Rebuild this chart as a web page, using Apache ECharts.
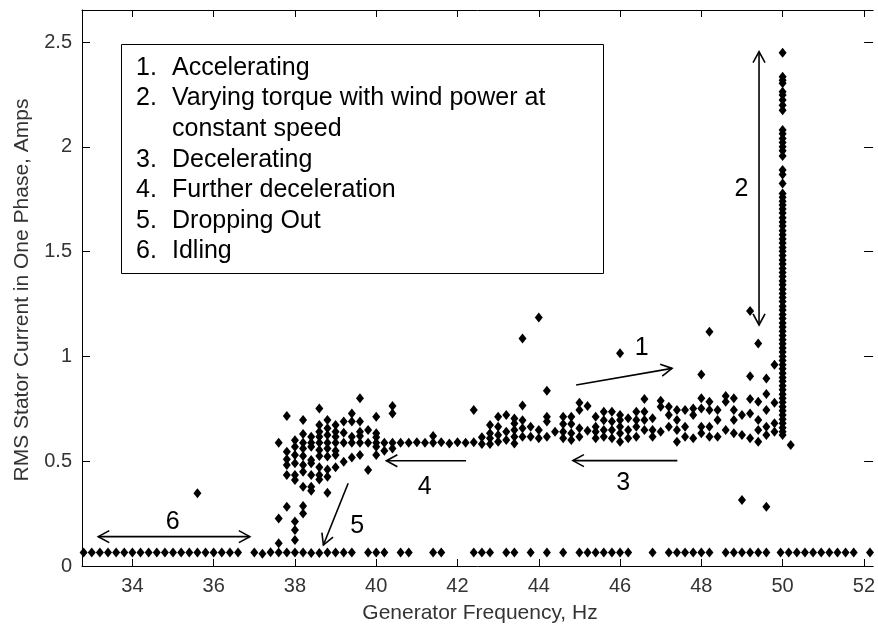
<!DOCTYPE html>
<html><head><meta charset="utf-8">
<script src="https://cdn.jsdelivr.net/npm/echarts@6/dist/echarts.min.js"></script>
<style>html,body{margin:0;padding:0;background:#fff}#c{width:878px;height:628px}</style>
</head><body><div id="c"></div>
<script>
const xTicks = [34,36,38,40,42,44,46,48,50,52];
const yTicks = [0,0.5,1,1.5,2,2.5];
const xTitle = 'Generator Frequency, Hz';
const yTitle = 'RMS Stator Current in One Phase, Amps';
const legendLines = [
  ['1.','Accelerating'],
  ['2.','Varying torque with wind power at'],
  ['','constant speed'],
  ['3.','Decelerating'],
  ['4.','Further deceleration'],
  ['5.','Dropping Out'],
  ['6.','Idling']
];

// idle row near zero
const idleRow = [
 [32.8,0.064],[33.0,0.064],[33.2,0.064],[33.4,0.064],[33.6,0.064],[33.8,0.064],[34.0,0.064],[34.2,0.064],[34.4,0.064],[34.6,0.064],
 [34.8,0.064],[35.0,0.064],[35.2,0.064],[35.4,0.064],[35.6,0.064],[35.8,0.064],[36.0,0.064],[36.2,0.064],[36.4,0.064],[36.6,0.064],
 [37.0,0.064],[37.2,0.058],[37.4,0.066],[37.6,0.064],[37.8,0.064],[38.0,0.064],[38.2,0.064],[38.4,0.062],[38.6,0.062],[38.8,0.064],
 [39.0,0.064],[39.2,0.064],[39.4,0.064],[39.8,0.064],[40.0,0.064],[40.2,0.064],[40.6,0.064],[40.8,0.064],[41.4,0.064],[41.6,0.064],
 [42.4,0.064],[42.6,0.064],[42.8,0.064],[43.2,0.064],[43.4,0.064],[43.8,0.064],[44.2,0.064],[44.6,0.064],[45.0,0.064],[45.2,0.064],
 [45.4,0.064],[45.6,0.064],[45.8,0.064],[46.0,0.064],[46.2,0.064],[46.8,0.064],[47.2,0.064],[47.4,0.064],[47.6,0.064],[47.8,0.064],
 [48.0,0.064],[48.2,0.064],[48.6,0.064],[48.8,0.064],[49.0,0.064],[49.2,0.064],[49.4,0.064],[49.6,0.064],[49.95,0.064],[50.15,0.064],
 [50.35,0.064],[50.55,0.064],[50.75,0.064],[50.95,0.064],[51.15,0.064],[51.35,0.064],[51.55,0.064],[51.75,0.064],[52.15,0.064]
];

// accelerating cluster and drop-out
const clusterPts = [
 [37.6,0.588],[37.6,0.227],[37.6,0.108],
 [37.8,0.716],[37.8,0.545],[37.8,0.509],[37.8,0.482],[37.8,0.434],[37.8,0.283],
 [38.0,0.600],[38.0,0.569],[38.0,0.530],[38.0,0.490],[38.0,0.434],[38.0,0.410],[38.0,0.212],[38.0,0.172],[38.0,0.124],
 [38.2,0.697],[38.2,0.630],[38.2,0.588],[38.2,0.561],[38.2,0.525],[38.2,0.482],[38.2,0.450],[38.2,0.378],[38.2,0.286],[38.2,0.251],
 [38.4,0.617],[38.4,0.588],[38.4,0.569],[38.4,0.506],[38.4,0.490],[38.4,0.434],[38.4,0.378],[38.4,0.359],
 [38.6,0.752],[38.6,0.673],[38.6,0.641],[38.6,0.617],[38.6,0.588],[38.6,0.553],[38.6,0.525],[38.6,0.471],[38.6,0.434],[38.6,0.413],
 [38.8,0.697],[38.8,0.657],[38.8,0.625],[38.8,0.588],[38.8,0.561],[38.8,0.522],[38.8,0.461],[38.8,0.426],[38.8,0.350],
 [39.0,0.673],[39.0,0.641],[39.0,0.617],[39.0,0.588],[39.0,0.550],[39.0,0.530],[39.0,0.471],
 [39.2,0.689],[39.2,0.636],[39.2,0.588],[39.2,0.498],
 [39.4,0.728],[39.4,0.689],[39.4,0.617],[39.4,0.588],[39.4,0.518],
 [39.6,0.800],[39.6,0.689],[39.6,0.641],[39.6,0.620],[39.6,0.588],[39.6,0.530],
 [39.8,0.649],[39.8,0.588],[39.8,0.458],
 [40.0,0.712],[40.0,0.633],[40.0,0.614],[40.0,0.588],[40.0,0.569],[40.0,0.530],
 [40.2,0.588],[40.2,0.550],
 [40.4,0.763],[40.4,0.728],[40.4,0.588],[40.4,0.561]
];

const plateauPts = [
 [40.6,0.588],[40.8,0.588],[41.0,0.590],[41.2,0.588],[41.4,0.588],[41.4,0.620],[41.6,0.590],
 [41.8,0.585],[42.0,0.590],[42.2,0.588],[42.4,0.590],[42.4,0.744]
];

const bandPts = [
 [42.6,0.614],[42.6,0.582],
 [42.8,0.673],[42.8,0.633],[42.8,0.609],[42.8,0.582],
 [43.0,0.712],[43.0,0.665],[43.0,0.625],[43.0,0.593],
 [43.2,0.720],[43.2,0.641],[43.2,0.601],
 [43.4,0.704],[43.4,0.680],[43.4,0.649],[43.4,0.617],[43.4,0.585],
 [43.6,0.766],[43.6,0.696],[43.6,0.657],[43.6,0.617],
 [43.8,0.665],[43.8,0.617],
 [44.0,0.649],[44.0,0.609],
 [44.2,0.712],[44.2,0.689],[44.2,0.617],
 [44.4,0.641],
 [44.6,0.712],[44.6,0.677],[44.6,0.641],[44.6,0.609],
 [44.8,0.712],[44.8,0.677],[44.8,0.633],[44.8,0.601],
 [45.0,0.779],[45.0,0.744],[45.0,0.657],[45.0,0.617],
 [45.2,0.763],[45.2,0.645],
 [45.4,0.712],[45.4,0.665],[45.4,0.641],[45.4,0.609],
 [45.6,0.736],[45.6,0.696],[45.6,0.649],[45.6,0.617],
 [45.8,0.736],[45.8,0.689],[45.8,0.649],[45.8,0.609],
 [46.0,0.720],[46.0,0.697],[46.0,0.665],[46.0,0.633],[46.0,0.593],
 [46.2,0.705],[46.2,0.649],[46.2,0.609],
 [46.4,0.736],[46.4,0.697],[46.4,0.665],[46.4,0.617],
 [46.6,0.797],[46.6,0.736],[46.6,0.697],[46.6,0.649],
 [46.8,0.705],[46.8,0.649],[46.8,0.617],
 [47.0,0.789],[47.0,0.760],[47.0,0.641],
 [47.2,0.760],[47.2,0.720],[47.2,0.665],
 [47.4,0.744],[47.4,0.697],[47.4,0.649],[47.4,0.593],
 [47.6,0.744],[47.6,0.665],[47.6,0.617],
 [47.8,0.752],[47.8,0.720],[47.8,0.609],
 [48.0,0.800],[48.0,0.752],[48.0,0.665],[48.0,0.633],
 [48.2,0.784],[48.2,0.744],[48.2,0.665],[48.2,0.617],
 [48.4,0.744],[48.4,0.697],[48.4,0.617],
 [48.6,0.811],[48.6,0.784],[48.6,0.649],
 [48.8,0.800],[48.8,0.744],[48.8,0.697],[48.8,0.633],
 [49.0,0.720],[49.0,0.625],
 [49.2,0.797],[49.2,0.728],[49.2,0.609],
 [49.4,0.784],[49.4,0.697],[49.4,0.649],[49.4,0.593],
 [49.6,0.744],[49.6,0.665],[49.6,0.625],
 [49.8,0.779],[49.8,0.681],[49.8,0.641]
];

const outlierPts = [
 [35.6,0.347],[44.0,1.186],[43.6,1.086],[44.2,0.836],[46.0,1.015],[48.2,1.118],[49.2,1.217],
 [49.4,1.062],[48.0,0.914],[49.2,0.905],[49.6,0.895],[49.8,0.960],[49.6,0.821],[50.2,0.577],
 [49.0,0.315],[49.6,0.283]
];

// constant-speed column at 50 Hz
const columnPts = [
 [50.0,2.449],[50.0,2.334],[50.0,2.318],[50.0,2.303],[50.0,2.263],[50.0,2.247],[50.0,2.223],[50.0,2.199],[50.0,2.175],
 [50.0,2.080],[50.0,2.062],[50.0,2.040],[50.0,2.021],[50.0,2.000],[50.0,1.981],[50.0,1.956],[50.0,1.889],[50.0,1.868],[50.0,1.825],
 [50.0,1.778],[50.0,1.760],[50.0,1.741],[50.0,1.722],[50.0,1.703],[50.0,1.684],[50.0,1.662],[50.0,1.641],[50.0,1.622],[50.0,1.600],
 [50.0,1.581],[50.0,1.560],[50.0,1.541],[50.0,1.520],[50.0,1.502],[50.0,1.481],[50.0,1.460],[50.0,1.441],[50.0,1.420],[50.0,1.400],
 [50.0,1.381],[50.0,1.360],[50.0,1.342],[50.0,1.321],[50.0,1.300],[50.0,1.281],[50.0,1.262],[50.0,1.240],[50.0,1.221],[50.0,1.200],
 [50.0,1.181],[50.0,1.160],[50.0,1.141],[50.0,1.120],[50.0,1.100],[50.0,1.080],[50.0,1.061],[50.0,1.040],[50.0,1.021],[50.0,1.000],
 [50.0,0.981],[50.0,0.960],[50.0,0.941],[50.0,0.920],[50.0,0.900],[50.0,0.881],[50.0,0.860],[50.0,0.841],[50.0,0.820],[50.0,0.800],
 [50.0,0.781],[50.0,0.760],[50.0,0.741],[50.0,0.720],[50.0,0.700],[50.0,0.681],[50.0,0.660],[50.0,0.641],[50.0,0.625]
];

// annotation arrows in data coordinates: [from, to, doubleHeaded]
const arrows = [
 [[44.92,0.864],[47.28,0.943],false],
 [[49.42,1.150],[49.42,2.454],true],
 [[47.41,0.503],[44.84,0.503],false],
 [[42.21,0.502],[40.25,0.502],false],
 [[39.31,0.395],[38.70,0.100],false],
 [[36.89,0.140],[33.16,0.140],true]
];
const arrowLabels = [
 ['1',46.53,1.039],['2',48.99,1.797],['3',46.08,0.395],['4',41.19,0.378],['5',39.53,0.188],['6',34.99,0.211]
];

const FONT = '"Liberation Sans", Arial, Helvetica, sans-serif';
const chart = echarts.init(document.getElementById('c'), null, {renderer:'canvas'});
const axisLineStyle = {color:'#000', width:1};
const base = {
  type:'value', axisLine:{show:true, onZero:false, lineStyle:axisLineStyle},
  splitLine:{show:false}
};
const option = {
  animation:false,
  backgroundColor:'#fff',
  grid:{left:82, right:0, top:10, bottom:62},
  xAxis:[
    Object.assign({}, base, {position:'bottom', min:32.76, max:52.227,
      axisTick:{show:true, inside:true, length:7, customValues:xTicks, lineStyle:axisLineStyle},
      axisLabel:{show:true, customValues:xTicks, margin:10, color:'#333', fontSize:20, fontFamily:FONT}}),
    Object.assign({}, base, {position:'top', min:32.76, max:52.227,
      axisTick:{show:true, inside:true, length:7, customValues:xTicks, lineStyle:axisLineStyle},
      axisLabel:{show:false}})
  ],
  yAxis:[
    Object.assign({}, base, {position:'left', min:0, max:2.653,
      axisTick:{show:true, inside:true, length:8, customValues:yTicks, lineStyle:axisLineStyle},
      axisLabel:{show:true, customValues:yTicks, margin:10, color:'#333', fontSize:20, fontFamily:FONT}}),
    Object.assign({}, base, {position:'right', min:0, max:2.653,
      axisLine:{show:false},
      axisTick:{show:true, inside:true, length:9, customValues:yTicks, lineStyle:axisLineStyle},
      axisLabel:{show:false}})
  ],
  series:[{
    type:'scatter', xAxisIndex:0, yAxisIndex:0, silent:true,
    symbol:'diamond', symbolSize:[8,10],
    itemStyle:{color:'#000', opacity:1},
    data: [].concat(idleRow, clusterPts, plateauPts, bandPts, outlierPts, columnPts)
  }]
};
chart.setOption(option);

function px(p){ return chart.convertToPixel({xAxisIndex:0, yAxisIndex:0}, p); }
const g = [];
function head(tip, from){
  const dx = tip[0]-from[0], dy = tip[1]-from[1];
  const L = Math.hypot(dx,dy), ux = dx/L, uy = dy/L;
  const len = 11, w = 6;
  const bx = tip[0]-ux*len, by = tip[1]-uy*len;
  return {type:'polyline', silent:true, z:10,
    shape:{points:[[bx-uy*w, by+ux*w], tip, [bx+uy*w, by-ux*w]]},
    style:{stroke:'#000', lineWidth:1.6, fill:null}};
}
arrows.forEach(a => {
  const p0 = px(a[0]), p1 = px(a[1]);
  g.push({type:'line', silent:true, z:10, shape:{x1:p0[0], y1:p0[1], x2:p1[0], y2:p1[1]}, style:{stroke:'#000', lineWidth:1.6}});
  g.push(head(p1, p0));
  if (a[2]) g.push(head(p0, p1));
});
arrowLabels.forEach(l => {
  const p = px([l[1], l[2]]);
  g.push({type:'text', silent:true, z:10, style:{text:l[0], x:p[0], y:p[1], font:'25px '+FONT, fill:'#000', align:'center', verticalAlign:'middle'}});
});
// legend box
g.push({type:'rect', silent:true, z:11, shape:{x:121.5, y:44.5, width:482, height:229}, style:{fill:'#fff', stroke:'#000', lineWidth:1}});
legendLines.forEach((ln, i) => {
  const y = 68 + i*30.6;
  if (ln[0]) g.push({type:'text', silent:true, z:12, style:{text:ln[0], x:136, y:y, font:'25px '+FONT, fill:'#000', align:'left', verticalAlign:'middle'}});
  g.push({type:'text', silent:true, z:12, style:{text:ln[1], x:172, y:y, font:'25px '+FONT, fill:'#000', align:'left', verticalAlign:'middle'}});
});
// axis titles
g.push({type:'text', silent:true, z:12, style:{text:xTitle, x:480, y:613, font:'21px '+FONT, fill:'#333', align:'center', verticalAlign:'middle'}});
g.push({type:'text', silent:true, z:12, x:22, y:290, rotation:Math.PI/2, style:{text:yTitle, x:0, y:0, font:'21px '+FONT, fill:'#333', align:'center', verticalAlign:'middle'}});
chart.setOption({graphic:g});
</script>
</body></html>
